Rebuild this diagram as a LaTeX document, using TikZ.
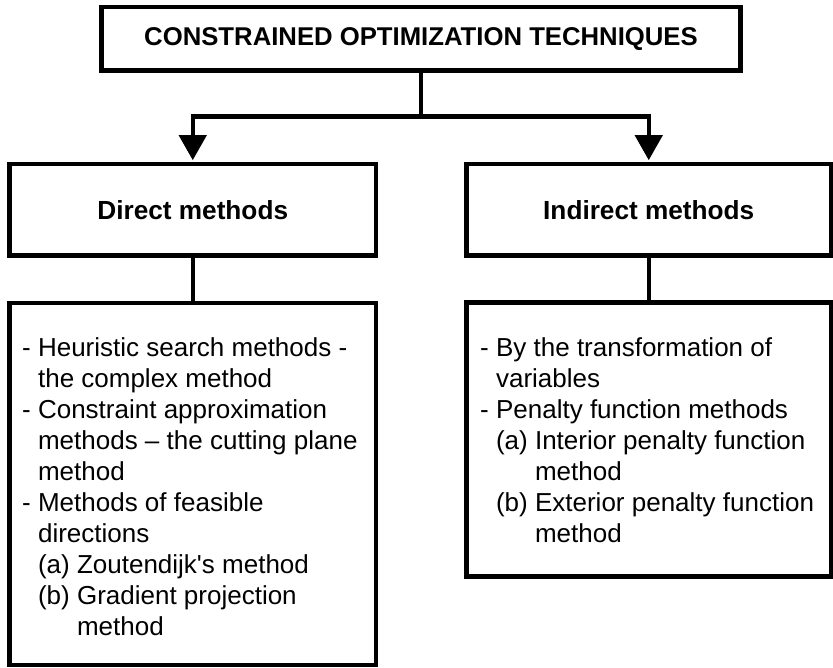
\documentclass[tikz,border=0pt]{standalone}
\usepackage{fontspec}
\setmainfont{Liberation Sans}
\usetikzlibrary{arrows.meta}
\begin{document}
\begin{tikzpicture}[x=1pt, y=-1pt,
    rule/.style={line width=4.5pt},
    headbox/.style={draw, line width=4.5pt, inner sep=0pt,
      font=\bfseries\fontsize{26.2}{31}\selectfont},
    listbox/.style={draw, line width=4.5pt, inner sep=0pt},
    listtext/.style={inner sep=0pt, align=left, anchor=north west,
      font=\fontsize{26}{31}\selectfont},
    arrowline/.style={rule, -{Triangle[width=27pt,length=25pt]}, shorten >=1.5pt}]
  \useasboundingbox (0,0) rectangle (833,668);

  % headings
  \node[headbox, minimum width=639pt, minimum height=63.5pt,
        font=\bfseries\fontsize{25.7}{31}\selectfont] (top) at (421,38.8)
    {CONSTRAINED OPTIMIZATION TECHNIQUES};
  \node[headbox, minimum width=366.5pt, minimum height=91.5pt] (direct) at (192.75,209.7)
    {Direct methods};
  \node[headbox, minimum width=364.5pt, minimum height=91.5pt] (indirect) at (648.75,209.7)
    {Indirect methods};

  % method lists
  \node[listbox, minimum width=366.5pt, minimum height=362pt] (directlist) at (192.75,484) {};
  \node[listbox, minimum width=364.5pt, minimum height=274pt] (indirectlist) at (648.75,439.5) {};

  \node[listtext] (directitems) at (22,337)
    {- Heuristic search methods -\\
     \phantom{-~}the complex method\\
     - Constraint approximation\\
     \phantom{-~}methods – the cutting plane\\
     \phantom{-~}method\\
     - Methods of feasible\\
     \phantom{-~}directions\\
     \phantom{-~}(a) Zoutendijk\textquotesingle s method\\
     \phantom{-~}(b) Gradient projection\\
     \phantom{-~(b)~}method};
  \node[listtext] (indirectitems) at (480,337)
    {- By the transformation of\\
     \phantom{-~}variables\\
     - Penalty function methods\\
     \phantom{-~}(a) Interior penalty function\\
     \phantom{-~(a)~}method\\
     \phantom{-~}(b) Exterior penalty function\\
     \phantom{-~(b)~}method};

  % connectors
  \coordinate (fork) at (421,116.7);
  \draw[rule] (top.south) -- (fork);
  \draw[arrowline] (fork) -| (direct.north);
  \draw[arrowline] (fork) -| (indirect.north);
  \draw[rule] (direct.south) -- (directlist.north);
  \draw[rule] (indirect.south) -- (indirectlist.north);
\end{tikzpicture}
\end{document}
